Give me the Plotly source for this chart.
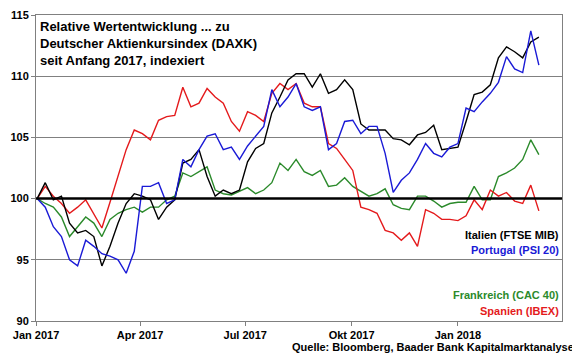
import pandas as pd
import plotly.graph_objects as go

# weekly observations starting 2 Jan 2017
start_date = "2017-01-02"

italien = [100.0, 101.3, 99.9, 100.2, 98.0, 97.2, 97.4, 96.9, 94.5, 96.1,
           98.0, 99.6, 100.4, 100.2, 99.9, 98.3, 99.3, 99.9, 102.9, 103.2,
           104.0, 101.8, 100.2, 100.7, 100.4, 100.7, 103.0, 104.1, 104.5, 107.0,
           108.3, 109.7, 110.2, 110.2, 109.1, 110.2, 108.6, 108.9, 109.7, 108.9,
           106.1, 105.6, 105.6, 105.6, 104.9, 104.8, 104.4, 105.2, 105.4, 106.0,
           104.0, 104.1, 104.2, 106.3, 108.5, 108.7, 109.3, 111.5, 112.4, 112.0,
           111.5, 112.8, 113.2]

portugal = [100.0, 99.3, 97.7, 96.9, 95.0, 94.5, 96.6, 96.1, 95.5, 95.3,
            95.0, 93.9, 95.7, 101.0, 101.0, 101.3, 99.6, 99.9, 103.2, 102.6,
            104.0, 105.1, 105.3, 104.0, 104.2, 103.2, 104.3, 105.1, 105.9, 108.9,
            107.5, 108.3, 109.4, 107.5, 107.2, 107.5, 104.0, 104.5, 106.3, 106.4,
            105.3, 105.9, 105.9, 103.7, 100.5, 101.5, 102.1, 103.2, 104.5, 103.7,
            103.4, 104.2, 104.5, 107.4, 107.1, 107.9, 108.6, 109.5, 111.6, 110.6,
            110.3, 113.7, 110.9]

frankreich = [100.0, 99.6, 99.3, 98.5, 96.9, 97.7, 98.5, 98.0, 96.9, 98.3,
              98.8, 99.1, 99.3, 98.9, 99.3, 99.3, 99.9, 100.2, 102.1, 101.8,
              102.2, 102.6, 100.7, 100.4, 100.3, 100.6, 100.9, 100.4, 100.7, 101.3,
              102.9, 102.3, 103.2, 102.2, 101.9, 102.3, 101.0, 101.1, 101.7, 101.0,
              100.6, 100.2, 100.4, 100.8, 99.5, 99.2, 99.1, 100.2, 100.2, 99.8,
              99.3, 99.6, 99.7, 99.7, 101.0, 99.9, 99.9, 101.8, 102.1, 102.5,
              103.2, 104.8, 103.6]

spanien = [100.0, 101.0, 100.2, 99.6, 98.8, 99.3, 99.9, 98.8, 97.6, 99.7,
           101.8, 104.0, 105.6, 105.3, 104.8, 106.4, 106.7, 106.8, 109.1, 107.5,
           107.8, 109.0, 108.3, 107.8, 106.3, 105.5, 107.1, 106.8, 106.3, 108.6,
           109.4, 108.9, 109.4, 107.8, 107.5, 107.5, 104.5, 104.1, 103.2, 102.3,
           99.3, 99.1, 98.8, 97.4, 97.2, 96.6, 97.2, 96.1, 99.1, 98.8,
           98.3, 98.3, 98.2, 98.6, 99.9, 99.1, 100.7, 100.2, 100.5, 99.8,
           99.6, 101.1, 99.0]

tick_dates = ["2017-01-01", "2017-04-01", "2017-07-01", "2017-10-01", "2018-01-01"]
tick_labels = ["Jan 2017", "Apr 2017", "Jul 2017", "Okt 2017", "Jan 2018"]

dates = pd.date_range(start_date, periods=len(italien), freq="7D")

FONT = "Liberation Sans, Arial, sans-serif"

fig = go.Figure()
series = [
    ("Frankreich (CAC 40)", frankreich, "#2b8a2b"),
    ("Spanien (IBEX)", spanien, "#e41a1c"),
    ("Italien (FTSE MIB)", italien, "#000000"),
    ("Portugal (PSI 20)", portugal, "#1a1ad6"),
]
for name, vals, col in series:
    fig.add_trace(go.Scatter(x=dates, y=vals, mode="lines", name=name,
                             line=dict(color=col, width=1.4), showlegend=False))

fig.add_shape(type="line", xref="paper", x0=0, x1=1, yref="y", y0=100, y1=100,
              line=dict(color="black", width=2.5))

# page body has an 8px margin, so the figure is 8px smaller and offset
fig.update_layout(
    width=572, height=350,
    margin=dict(l=28, r=18, t=7, b=37),
    paper_bgcolor="white", plot_bgcolor="white",
    font=dict(family=FONT, size=11, color="black"),
    xaxis=dict(range=["2017-01-01", "2018-04-01"], tickvals=tick_dates, ticktext=tick_labels,
               showgrid=False, showline=True, linecolor="#808080", linewidth=1, mirror=True,
               ticks="outside", ticklen=4, tickcolor="#808080", automargin=False,
               tickfont=dict(family=FONT, size=11, color="black", weight="bold")),
    yaxis=dict(range=[90, 115], tickvals=[90, 95, 100, 105, 110, 115],
               showgrid=True, gridcolor="#808080", gridwidth=1, zeroline=False,
               showline=True, linecolor="#808080", linewidth=1, mirror=True,
               ticks="outside", ticklen=4, tickcolor="#808080", automargin=False,
               tickfont=dict(family=FONT, size=11, color="black", weight="bold")),
)

fig.add_annotation(xref="paper", yref="paper", x=0.004, y=0.995, xanchor="left", yanchor="top",
                   align="left", showarrow=False,
                   text="<b>Relative Wertentwicklung ... zu<br>Deutscher Aktienkursindex (DAXK)<br>seit Anfang 2017, indexiert</b>",
                   font=dict(family=FONT, size=13, color="black"))

labels = [("Italien (FTSE MIB)", "#000000", 235), ("Portugal (PSI 20)", "#1a1ad6", 250),
          ("Frankreich (CAC 40)", "#2b8a2b", 295), ("Spanien (IBEX)", "#e41a1c", 311)]
for txt, col, ypx in labels:
    fig.add_annotation(xref="paper", yref="paper", x=0.998, y=(321 - ypx) / 306,
                       xanchor="right", yanchor="middle", showarrow=False,
                       text="<b>" + txt + "</b>", font=dict(family=FONT, size=11, color=col))

fig.add_annotation(xref="paper", yref="paper", x=(576 - 36) / 526, y=(321 - 347) / 306,
                   xanchor="right", yanchor="middle", showarrow=False,
                   text="<b>Quelle: Bloomberg, Baader Bank Kapitalmarktanalyse</b>",
                   font=dict(family=FONT, size=11, color="black"))

fig.write_html("out.html")
